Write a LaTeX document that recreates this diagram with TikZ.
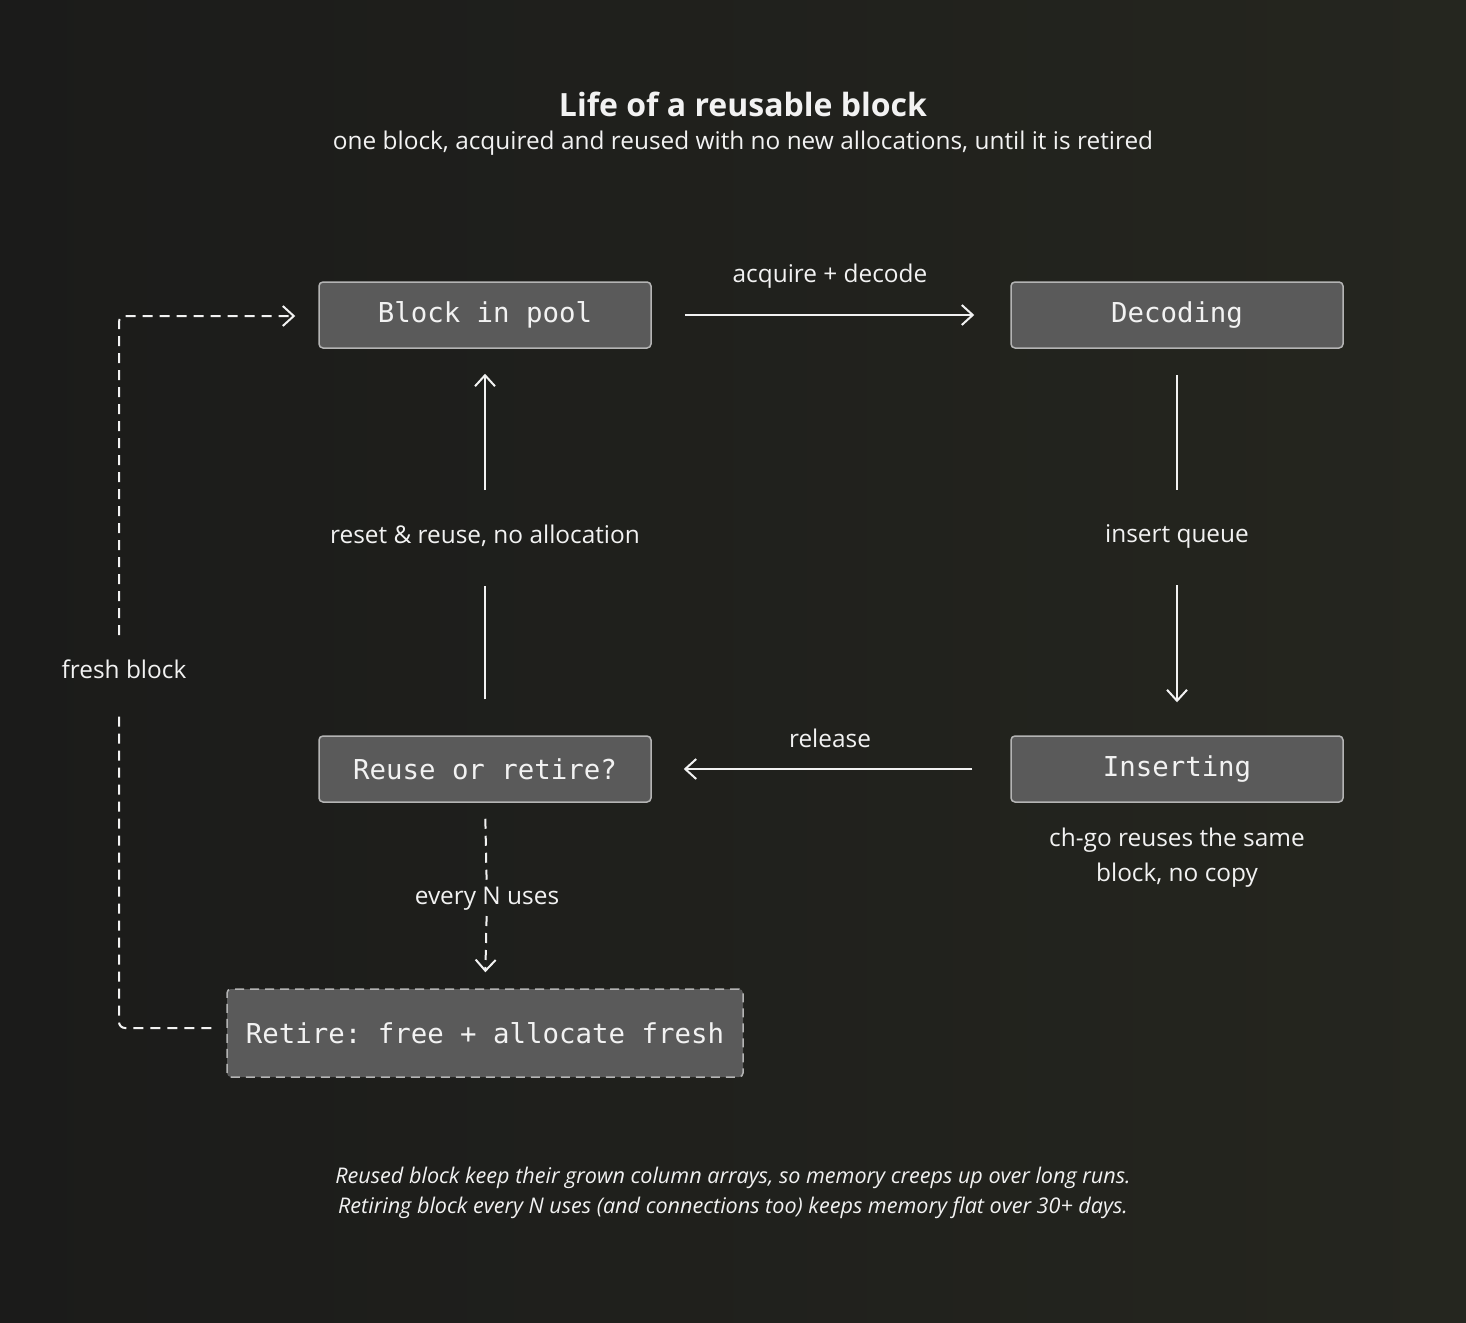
\documentclass[tikz,border=0pt]{standalone}
\usepackage{fontspec}
\setmainfont{Open Sans}
\setmonofont{DejaVu Sans Mono}
\usetikzlibrary{arrows.meta}
\definecolor{bgdark}{HTML}{1B1B1A}
\definecolor{bgmid}{HTML}{1E1F1C}
\definecolor{bgwarm}{HTML}{25261F}
\definecolor{boxfill}{HTML}{5A5A5A}
\definecolor{boxline}{HTML}{B4B4B4}
\definecolor{inkwhite}{HTML}{F2F2F2}

\begin{document}
\begin{tikzpicture}
[x=0.5pt,y=-0.5pt,
  statebox/.style={draw=boxline,line width=0.75pt,fill=boxfill,rounded corners=2pt,
    minimum width=166pt,minimum height=33pt,inner sep=0pt,text=inkwhite,
    font=\ttfamily\fontsize{13.7}{16}\selectfont},
  retirebox/.style={statebox,minimum width=258pt,minimum height=44pt,
    dash pattern=on 4.5pt off 3pt},
  flowlabel/.style={text=inkwhite,font=\fontsize{12.2}{17.5}\selectfont},
  flowline/.style={draw=inkwhite,line width=1pt},
  dashline/.style={flowline,dash pattern=on 5pt off 3.5pt},
  chevron/.style={-{Straight Barb[length=5.5pt,width=10pt,line width=1pt]}}]
%% background
\useasboundingbox (0,0) rectangle (1466,1322);
\shade[left color=bgdark,middle color=bgmid,right color=bgwarm] (0,0) rectangle (1466,1322);
%% heading
\node[text=inkwhite,font=\bfseries\fontsize{16}{19}\selectfont] (title) at (743,104) {Life of a reusable block};
\node[flowlabel] (subtitle) at (743,143) {one block, acquired and reused with no new allocations, until it is retired};
%% states
\foreach \nodename/\x/\y/\txt in {pool/485/315/Block in pool, dec/1177/315/Decoding,
  reuse/485/769/Reuse or retire?, ins/1177/769/Inserting}
{
  \node[statebox] (\nodename) at (\x,\y) {\txt};
}
\node[retirebox] (retire) at (485,1033) {Retire: free + allocate fresh};
%% labels
\node[flowlabel] (acq) at (830,276) {acquire + decode};
\node[flowlabel] (insq) at (1177,536) {insert queue};
\node[flowlabel] (rel) at (830,738) {release};
\node[flowlabel] (reset) at (485,536) {reset \& reuse, no allocation};
\node[flowlabel] (everyn) at (487,899) {every N uses};
\node[flowlabel] (fresh) at (124,669) {fresh block};
\node[flowlabel,align=center] (nocopy) at (1177,858) {ch-go reuses the same\\block, no copy};
\node[text=inkwhite,align=center,font=\itshape\fontsize{10.8}{15}\selectfont] (footnote) at (733,1193)
  {Reused block keep their grown column arrays, so memory creeps up over long runs.\\
   Retiring block every N uses (and connections too) keeps memory flat over 30+ days.};
%% corners of the fresh block loop
\coordinate (lowcorner) at (119,1028);
\coordinate (freshlow) at (119,710);
\coordinate (freshtop) at (119,635);
\coordinate (upcorner) at (119,316);
%% edges
\draw[flowline,chevron,shorten <=16.5pt,shorten >=18pt] (pool.east) -- (dec.west);
\draw[flowline,shorten <=13pt,shorten >=23pt] (dec.south) -- (insq.center);
\draw[flowline,chevron,shorten <=24.5pt,shorten >=16.5pt] (insq.center) -- (ins.north);
\draw[flowline,chevron,shorten <=19pt,shorten >=16pt] (ins.west) -- (reuse.east);
\draw[flowline,shorten <=18pt,shorten >=25pt] (reuse.north) -- (reset.center);
\draw[flowline,chevron,shorten <=23pt,shorten >=12.5pt] (reset.center) -- (pool.south);
\draw[dashline,shorten <=8pt,shorten >=9.5pt] (reuse.south) -- (everyn.center);
\draw[dashline,chevron,shorten <=8.5pt,shorten >=8pt] (everyn.center) -- (retire.north);
\draw[dashline,rounded corners=3pt,shorten <=7.5pt] (lowcorner -| retire.west) -- (lowcorner) -- (freshlow);
\draw[dashline,chevron,rounded corners=3pt,shorten >=11.5pt] (freshtop) -- (upcorner) -- (upcorner -| pool.west);
\end{tikzpicture}
\end{document}
